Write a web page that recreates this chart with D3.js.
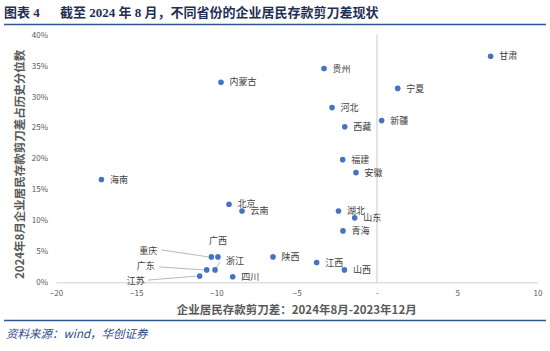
<!DOCTYPE html>
<html>
<head>
<meta charset="utf-8">
<script src="https://cdn.jsdelivr.net/npm/d3@7"></script>
<style>
  body { margin: 0; background: #fff; }
  svg { display: block; }
</style>
</head>
<body>
<div id="chart"></div>
<script>
// provinces and their values
const provinces = ["甘肃", "贵州", "宁夏", "内蒙古", "河北", "新疆", "西藏", "福建", "安徽", "海南",
  "北京", "云南", "湖北", "山东", "青海", "陕西", "江西", "山西", "四川", "重庆", "广西", "广东", "浙江", "江苏"];
const scissorChange = [7.08, -3.30, 1.29, -9.72, -2.80, 0.29, -2.01, -2.14, -1.31, -17.17,
  -9.22, -8.41, -2.40, -1.39, -2.12, -6.48, -3.76, -2.03, -8.99, -10.32, -9.91, -10.61, -10.09, -11.05];
const percentile = [0.365, 0.345, 0.313, 0.323, 0.282, 0.261, 0.251, 0.198, 0.177, 0.166,
  0.126, 0.115, 0.115, 0.104, 0.083, 0.041, 0.032, 0.020, 0.009, 0.041, 0.041, 0.020, 0.020, 0.010];
const xTicks = [-20, -15, -10, -5, 0, 5, 10];
const yTicks = [0, 0.05, 0.1, 0.15, 0.2, 0.25, 0.3, 0.35, 0.4];

const titleText = "截至 2024 年 8 月，不同省份的企业居民存款剪刀差现状";
const xTitle = "企业居民存款剪刀差：2024年8月-2023年12月";
const yTitle = "2024年8月企业居民存款剪刀差占历史分位数";
const sourceText = "资料来源：wind，华创证券";

const data = provinces.map((p, i) => ({ name: p, x: scissorChange[i], y: percentile[i] }));

// labels moved off the crowded cluster, with leader lines
const callouts = {
  "重庆": { dx: -63, dy: -6, anchor: "middle", lx: -50, ly: -7 },
  "广西": { dx: 0, dy: -16, anchor: "middle" },
  "浙江": { dx: 11, dy: -9, anchor: "start", lx: 5, ly: -8 },
  "广东": { dx: -61, dy: -4, anchor: "middle", lx: -48, ly: -3 },
  "江苏": { dx: -64, dy: 5, anchor: "middle", lx: -52, ly: 4 }
};

const W = 550, H = 351;
const svg = d3.select("#chart").append("svg")
  .attr("width", W)
  .attr("height", H);

const cjk = "'Noto Sans CJK SC', 'Noto Sans', sans-serif";

// header
const title = svg.append("text")
  .attr("x", 4)
  .attr("y", 17)
  .style("font-family", "'Liberation Serif', 'Noto Sans CJK SC', serif")
  .style("font-weight", "bold")
  .style("font-size", "13px")
  .attr("fill", "#1f2f55");
title.append("tspan").text("图表 4");
title.append("tspan").attr("x", 60).text(titleText);

svg.append("line")
  .attr("x1", 4).attr("x2", 546)
  .attr("y1", 24.5).attr("y2", 24.5)
  .attr("stroke", "#2f5597")
  .attr("stroke-width", 1.5);

svg.append("line")
  .attr("x1", 4).attr("x2", 546)
  .attr("y1", 320.5).attr("y2", 320.5)
  .attr("stroke", "#2f5597")
  .attr("stroke-width", 1.5);

svg.append("text")
  .attr("x", 6)
  .attr("y", 338)
  .style("font-family", cjk)
  .style("font-style", "italic")
  .style("font-size", "11.5px")
  .attr("fill", "#2f4a85")
  .text(sourceText);

// scales
const x = d3.scaleLinear().domain([-20, 10]).range([56, 537.5]);
const y = d3.scaleLinear().domain([0, 0.4]).range([282.3, 34.5]);

// x axis
const xAxis = svg.append("g")
  .attr("transform", `translate(0,${y(0)})`)
  .call(d3.axisBottom(x).tickValues(xTicks).tickSize(0).tickSizeOuter(0).tickPadding(8)
    .tickFormat(d => d === 0 ? "-" : d3.format("d")(d)));
xAxis.select(".domain").attr("stroke", "#d0d0d0");
xAxis.selectAll("text")
  .style("font-family", cjk)
  .style("font-size", "8px")
  .attr("fill", "#595959");

// y axis
const yAxis = svg.append("g")
  .attr("transform", `translate(${x(-20)},0)`)
  .call(d3.axisLeft(y).tickValues(yTicks).tickSize(0).tickPadding(8).tickFormat(d3.format(".0%")));
yAxis.select(".domain").remove();
yAxis.selectAll("text")
  .style("font-family", cjk)
  .style("font-size", "8px")
  .attr("fill", "#595959");

// vertical line at zero
svg.append("line")
  .attr("x1", x(0)).attr("x2", x(0))
  .attr("y1", y(0.4)).attr("y2", y(0))
  .attr("stroke", "#c8c8c8")
  .attr("stroke-width", 1);

// axis titles
svg.append("text")
  .attr("x", (x(-20) + x(10)) / 2)
  .attr("y", 314)
  .attr("text-anchor", "middle")
  .style("font-family", cjk)
  .style("font-weight", "bold")
  .style("font-size", "11.5px")
  .attr("fill", "#595959")
  .text(xTitle);

svg.append("text")
  .attr("transform", `translate(24,${(y(0) + y(0.4)) / 2 + 6}) rotate(-90)`)
  .attr("text-anchor", "middle")
  .style("font-family", cjk)
  .style("font-weight", "bold")
  .style("font-size", "11.5px")
  .attr("fill", "#595959")
  .text(yTitle);

// leader lines
svg.append("g").selectAll("line")
  .data(data.filter(d => callouts[d.name] && callouts[d.name].lx !== undefined))
  .join("line")
  .attr("x1", d => x(d.x) + callouts[d.name].lx)
  .attr("y1", d => y(d.y) + callouts[d.name].ly)
  .attr("x2", d => x(d.x) - (callouts[d.name].lx < 0 ? 3 : -1))
  .attr("y2", d => y(d.y) - (callouts[d.name].lx < 0 ? 0 : 2))
  .attr("stroke", "#a6a6a6")
  .attr("stroke-width", 0.8);

// points
svg.append("g").selectAll("circle")
  .data(data)
  .join("circle")
  .attr("cx", d => x(d.x))
  .attr("cy", d => y(d.y))
  .attr("r", 2.8)
  .attr("fill", "#4472c4");

// point labels
svg.append("g").selectAll("text")
  .data(data)
  .join("text")
  .attr("x", d => x(d.x) + (callouts[d.name] ? callouts[d.name].dx : 8.5))
  .attr("y", d => y(d.y) + (callouts[d.name] ? callouts[d.name].dy : 0))
  .attr("dy", "0.35em")
  .attr("text-anchor", d => callouts[d.name] ? callouts[d.name].anchor : "start")
  .style("font-family", cjk)
  .style("font-size", "9px")
  .attr("fill", "#404040")
  .text(d => d.name);
</script>
</body>
</html>
